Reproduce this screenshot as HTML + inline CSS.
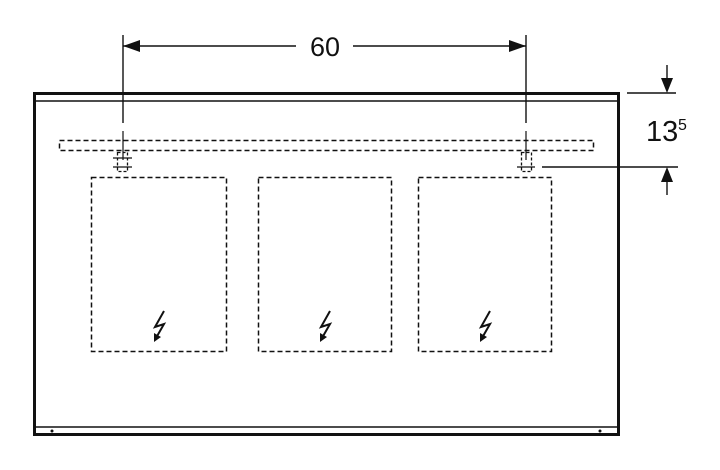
<!DOCTYPE html>
<html><head><style>body{margin:0;background:#fff}svg{display:block}</style></head>
<body>
<svg width="720" height="470" viewBox="0 0 720 470" xmlns="http://www.w3.org/2000/svg" font-family="Liberation Sans, sans-serif">
<g stroke="#111" fill="none">
<rect x="34.5" y="93.5" width="584" height="341" stroke-width="3"/>
<line x1="34" y1="101" x2="618" y2="101" stroke-width="1.5"/>
<line x1="34" y1="427" x2="618" y2="427" stroke-width="1.5"/>
<rect x="59.5" y="140.5" width="534" height="10" stroke-dasharray="5,3" stroke-width="1.5"/>
<rect x="91.5" y="177.5" width="135" height="174" stroke-dasharray="5,3" stroke-width="1.5"/>
<rect x="258.5" y="177.5" width="133" height="174" stroke-dasharray="5,3" stroke-width="1.5"/>
<rect x="418.5" y="177.5" width="133" height="174" stroke-dasharray="5,3" stroke-width="1.5"/>
<rect x="117.5" y="152.5" width="10" height="19" stroke-dasharray="3,2" stroke-width="1.3"/>
<line x1="113" y1="158" x2="132" y2="158" stroke-width="1.2"/>
<line x1="113" y1="167" x2="132" y2="167" stroke-width="1.2"/>
<rect x="521.5" y="152.5" width="10" height="19" stroke-dasharray="3,2" stroke-width="1.3"/>
<line x1="517" y1="167" x2="535" y2="167" stroke-width="1.2"/>
<line x1="123" y1="35" x2="123" y2="123" stroke-width="1.4"/>
<line x1="123" y1="131" x2="123" y2="160" stroke-width="1.2"/>
<line x1="526" y1="35" x2="526" y2="123" stroke-width="1.4"/>
<line x1="526" y1="131" x2="526" y2="160" stroke-width="1.2"/>
<line x1="123" y1="46" x2="296" y2="46" stroke-width="1.4"/>
<line x1="353" y1="46" x2="526" y2="46" stroke-width="1.4"/>
<line x1="627" y1="93" x2="676" y2="93" stroke-width="1.4"/>
<line x1="542" y1="167" x2="678" y2="167" stroke-width="1.4"/>
<line x1="667" y1="65" x2="667" y2="80" stroke-width="1.4"/>
<line x1="667" y1="180" x2="667" y2="195" stroke-width="1.4"/>
</g>
<g fill="#111">
<polygon points="123,46 140,40 140,52"/>
<polygon points="526,46 509,40 509,52"/>
<polygon points="667,93 661,78 673,78"/>
<polygon points="667,167 661,182 673,182"/>
<circle cx="52" cy="431" r="1.5"/><circle cx="600" cy="431" r="1.5"/>
</g>
<text x="325" y="56" font-size="27" text-anchor="middle" fill="#111">60</text>
<text x="646" y="141" font-size="29" fill="#111">13</text>
<text x="678" y="130" font-size="16" fill="#111">5</text>
<g stroke="#111" stroke-width="2" fill="none">
<path d="M164,311 L155,327 L164,324 L156,338"/>
<path d="M330,311 L321,327 L330,324 L322,338"/>
<path d="M490,311 L481,327 L490,324 L482,338"/>
</g>
<g fill="#111">
<polygon points="154,342 154,333 161,337"/>
<polygon points="320,342 320,333 327,337"/>
<polygon points="480,342 480,333 487,337"/>
</g>
</svg>
</body></html>
